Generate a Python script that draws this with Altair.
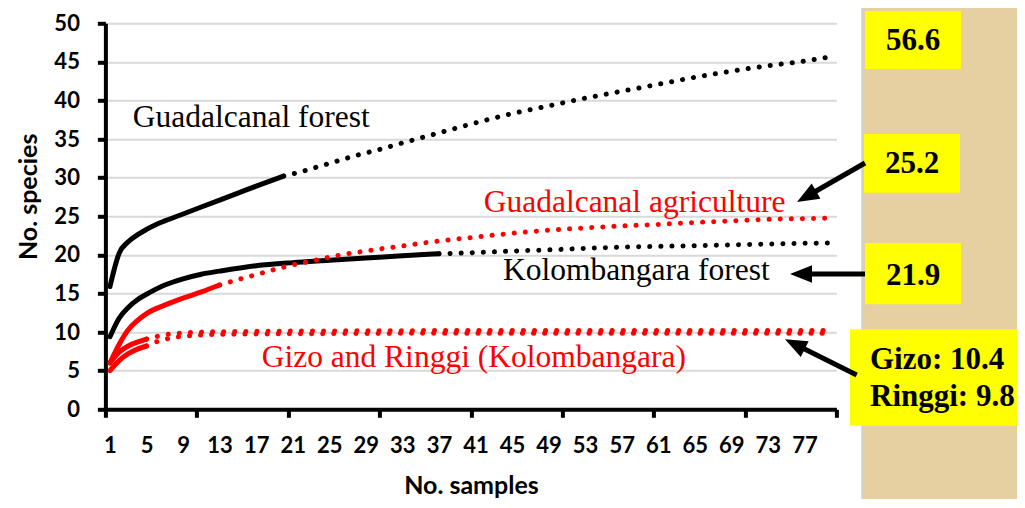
import math
import altair as alt
import pandas as pd

# ---------------- data ----------------
series_names = ["Guadalcanal forest", "Guadalcanal agriculture",
                "Kolombangara forest", "Gizo", "Ringgi"]
series_colors = ["#000000", "#FF0000", "#000000", "#FF0000", "#FF0000"]

gf_solid_s = [1, 2, 3, 4, 5, 6, 7, 9, 11, 13, 15, 17, 20]
gf_solid_v = [15.9, 20.2, 21.7, 22.6, 23.3, 23.9, 24.4, 25.3, 26.2, 27.1, 28.0, 28.9, 30.2]
gf_dot_s = [20, 22, 24, 26, 28, 30, 33, 37, 41, 45, 49, 53, 57, 61, 65, 69, 73, 77, 80]
gf_dot_v = [30.2, 30.8, 31.5, 32.2, 32.9, 33.5, 34.5, 35.8, 37.1, 38.3, 39.3, 40.3,
            41.2, 42.1, 43.0, 43.8, 44.5, 45.1, 45.7]

ga_solid_s = [1, 2, 3, 4, 5, 7, 9, 11, 13]
ga_solid_v = [6.0, 8.4, 10.3, 11.5, 12.4, 13.5, 14.4, 15.2, 16.1]
ga_dot_s = [13, 15, 17, 19, 21, 23, 25, 27, 29, 31, 33, 35, 37, 41, 45, 49, 53, 57,
            61, 65, 69, 73, 77, 80]
ga_dot_v = [16.1, 16.8, 17.45, 18.1, 18.7, 19.2, 19.7, 20.15, 20.5, 20.85, 21.15,
            21.5, 21.8, 22.3, 22.8, 23.2, 23.5, 23.75, 23.95, 24.2, 24.4, 24.6, 24.7, 24.75]

kf_solid_s = [1, 2, 3, 4, 5, 7, 9, 11, 13, 17, 21, 25, 29, 33, 37]
kf_solid_v = [9.4, 11.8, 13.2, 14.2, 14.9, 16.1, 16.9, 17.5, 17.9, 18.6, 19.0, 19.3,
              19.6, 19.9, 20.15]
kf_dot_s = [37, 41, 45, 49, 53, 57, 61, 65, 69, 73, 77, 80]
kf_dot_v = [20.15, 20.3, 20.5, 20.65, 20.85, 21.0, 21.1, 21.2, 21.3, 21.4, 21.5, 21.55]

gz_solid_s = [1, 2, 3, 4, 5]
gz_solid_v = [6.0, 7.4, 8.2, 8.7, 9.1]
gz_dot_s = [5, 6, 7, 8, 10, 13, 17, 25, 40, 60, 80]
gz_dot_v = [9.1, 9.4, 9.65, 9.8, 9.95, 10.05, 10.1, 10.15, 10.2, 10.2, 10.2]

rg_solid_s = [1, 2, 3, 4, 5]
rg_solid_v = [5.0, 6.3, 7.2, 7.8, 8.2]
rg_dot_s = [5, 6, 7, 8, 10, 13, 17, 25, 40, 60, 80]
rg_dot_v = [8.2, 8.7, 9.05, 9.3, 9.55, 9.7, 9.75, 9.8, 9.85, 9.85, 9.85]

x_label_values = list(range(1, 78, 4))
x_tick_values = [0.5 + 10 * i for i in range(9)]
y_values = list(range(0, 51, 5))

label_text = ["Guadalcanal forest", "Guadalcanal agriculture",
              "Kolombangara forest", "Gizo and Ringgi (Kolombangara)"]
label_color = ["#000000", "#FF0000", "#000000", "#FF0000"]

box_texts = ["56.6", "25.2", "21.9"]
gizo_lines = ["Gizo: 10.4", "Ringgi: 9.8"]

# ---------------- tables ----------------
def rows(name, s_list, v_list):
    return [{"series": name, "s": s, "v": v} for s, v in zip(s_list, v_list)]

solid = pd.DataFrame(
    rows(series_names[0], gf_solid_s, gf_solid_v)
    + rows(series_names[1], ga_solid_s, ga_solid_v)
    + rows(series_names[2], kf_solid_s, kf_solid_v)
    + rows(series_names[3], gz_solid_s, gz_solid_v)
    + rows(series_names[4], rg_solid_s, rg_solid_v)
)
dotted = pd.DataFrame(
    rows(series_names[0], gf_dot_s, gf_dot_v)
    + rows(series_names[1], ga_dot_s, ga_dot_v)
    + rows(series_names[2], kf_dot_s, kf_dot_v)
    + rows(series_names[3], gz_dot_s, gz_dot_v)
    + rows(series_names[4], rg_dot_s, rg_dot_v)
)

# annotation placement (data coordinates, text baseline)
label_pos_s = [3.5, 41.9, 44.0, 17.6]
label_pos_v = [36.6, 25.5, 16.7, 5.5]
labels = pd.DataFrame({"text": label_text, "color": label_color,
                       "s": label_pos_s, "v": label_pos_v})

color_scale = alt.Scale(domain=series_names, range=series_colors)
x_scale = alt.Scale(domain=[0.5, 80.5], nice=False, zero=False)
y_scale = alt.Scale(domain=[0, 50], nice=False)

LABEL_FONT = "Lato"
PLOT_TOP = 15.3          # svg padding above the plot area
PLOT_H = 386.0

y_axis = alt.Axis(values=y_values, title="No. species", grid=True,
                  gridColor="#D9D9D9", gridWidth=2,
                  domainColor="black", domainWidth=4,
                  tickColor="black", tickWidth=4, tickSize=8,
                  labelFont=LABEL_FONT, labelFontSize=22, labelFontWeight="bold",
                  labelColor="black", labelPadding=18, labelOverlap=False,
                  labelFlush=False,
                  titleFont=LABEL_FONT, titleFontSize=25, titleFontWeight="bold",
                  titleColor="black", titleX=-77, titleY=173.0,
                  titleBaseline="middle", titleAlign="center", titleAngle=270)

x_axis_labels = alt.Axis(values=x_label_values, ticks=False, grid=False,
                         domainColor="black", domainWidth=4,
                         labelFont=LABEL_FONT, labelFontSize=22, labelFontWeight="bold",
                         labelColor="black", labelPadding=26,
                         labelFlush=False, labelOverlap=False,
                         title="No. samples", titleFont=LABEL_FONT, titleFontSize=25,
                         titleFontWeight="bold", titleColor="black",
                         titleX=365.6, titleY=83.7, titleBaseline="alphabetic",
                         titleAlign="center", orient="bottom")

x_axis_ticks = alt.Axis(values=x_tick_values, labels=False, domain=False, grid=False,
                        ticks=True, tickSize=8, tickWidth=4, tickColor="black",
                        title=None, orient="bottom")

one = pd.DataFrame({"k": [0]})
dy0 = 20.7 - (8 + PLOT_TOP)   # shift from reference-screen y to plot-frame y offset

# right-hand textured panel (pixel positions in the plot frame)
panel = alt.Chart(one).mark_rect(color="#E6D0A2", stroke="#D0D0D0", strokeWidth=1.5).encode(
    x=alt.value(756.6), x2=alt.value(940), y=alt.value(-30), y2=alt.value(490))

layers = [panel]

solid_layer = alt.Chart(solid).mark_line(strokeWidth=5, interpolate="monotone",
                                         strokeCap="round").encode(
    x=alt.X("s:Q", scale=x_scale, axis=x_axis_labels),
    y=alt.Y("v:Q", scale=y_scale, axis=y_axis),
    color=alt.Color("series:N", scale=color_scale, legend=None),
    detail="series:N",
)
dotted_layer = alt.Chart(dotted).mark_line(strokeWidth=5, interpolate="monotone",
                                           strokeDash=[0.1, 11], strokeCap="round").encode(
    x=alt.X("s:Q", scale=x_scale, axis=None),
    y=alt.Y("v:Q", scale=y_scale, axis=y_axis),
    color=alt.Color("series:N", scale=color_scale, legend=None),
    detail="series:N",
)
label_layer = alt.Chart(labels).mark_text(font="Liberation Serif", fontSize=31.5,
                                          align="left", baseline="alphabetic").encode(
    x=alt.X("s:Q", scale=x_scale, axis=x_axis_ticks),
    y=alt.Y("v:Q", scale=y_scale, axis=y_axis),
    text="text:N",
    color=alt.Color("color:N", scale=None),
)
layers += [solid_layer, dotted_layer, label_layer]

# yellow boxes  (x, x2, y, y2) in reference-screen-relative plot frame
box_geom = [(759.6, 855.6, -9.7, 48.3),
            (758.6, 854.6, 113.3, 172.0),
            (759.6, 855.6, 222.3, 283.6),
            (744.6, 940.0, 308.6, 405.0)]
for (bx, bx2, by, by2) in box_geom:
    layers.append(alt.Chart(one).mark_rect(color="#FFFF00").encode(
        x=alt.value(bx), x2=alt.value(bx2), y=alt.value(by + dy0), y2=alt.value(by2 + dy0)))

box_text_pos = [(807.6, 20.0), (806.6, 143.3), (807.6, 255.3)]
for t, (tx, ty) in zip(box_texts, box_text_pos):
    layers.append(alt.Chart(one).mark_text(font="Liberation Serif", fontSize=31,
                                           fontWeight="bold", color="black",
                                           align="center", baseline="middle").encode(
        x=alt.value(tx), y=alt.value(ty + dy0), text=alt.value(t)))
for t, ty in zip(gizo_lines, [339.3, 376.0]):
    layers.append(alt.Chart(one).mark_text(font="Liberation Serif", fontSize=31,
                                           fontWeight="bold", color="black",
                                           align="left", baseline="middle").encode(
        x=alt.value(764.6), y=alt.value(ty + dy0), text=alt.value(t)))

# arrows: start point, tip point
arrows = [((759.6, 142.3), (691.6, 181.3)),
          ((759.6, 253.3), (684.6, 253.3)),
          ((751.3, 354.3), (679.6, 318.6))]
for (sx, sy), (tx, ty) in arrows:
    sy, ty = sy + dy0, ty + dy0
    dx, dy = tx - sx, ty - sy
    ln = math.hypot(dx, dy)
    ex, ey = tx - dx / ln * 14, ty - dy / ln * 14
    ang = math.degrees(math.atan2(dy, dx)) % 360
    layers.append(alt.Chart(one).mark_rule(color="black", strokeWidth=5).encode(
        x=alt.value(sx), y=alt.value(sy), x2=alt.value(ex), y2=alt.value(ey)))
    layers.append(alt.Chart(one).mark_point(shape="M 0 0 L -2 -0.8 L -2 0.8 Z",
                                            filled=True, color="black", opacity=1,
                                            size=484, angle=ang, strokeWidth=0).encode(
        x=alt.value(tx), y=alt.value(ty)))

chart = alt.layer(*layers).resolve_axis(x="independent").properties(
    width=731, height=PLOT_H,
    autosize=alt.AutoSizeParams(type="none"),
    padding={"left": 97.4, "top": PLOT_TOP, "right": 180.6,
             "bottom": 491 - PLOT_TOP - PLOT_H},
    background="white",
).configure_view(strokeOpacity=0)

chart.save("out.html", embed_options={"renderer": "svg", "actions": False})
